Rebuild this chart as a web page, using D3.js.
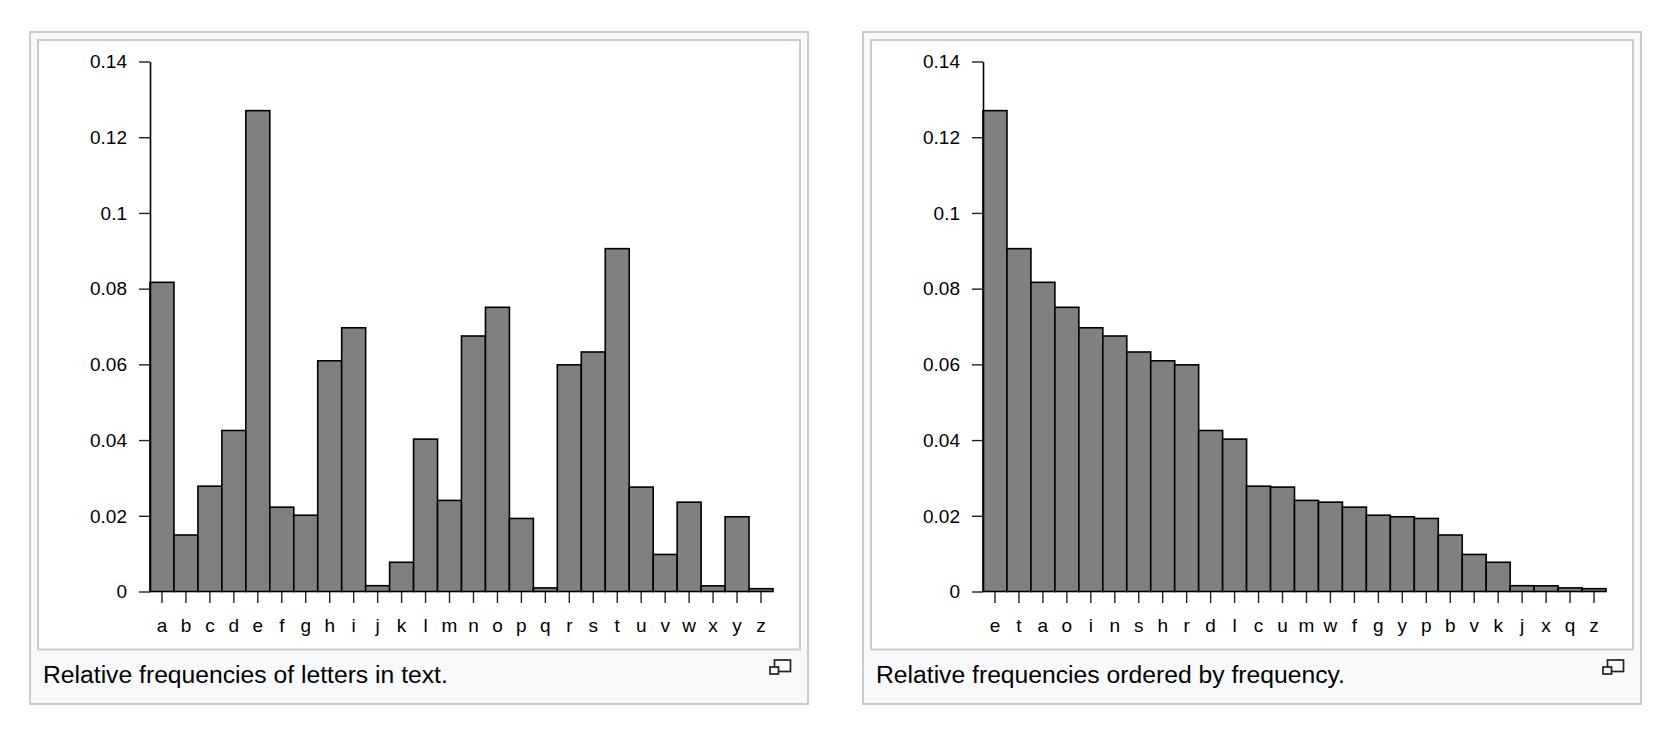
<!DOCTYPE html>
<html>
<head>
<meta charset="utf-8">
<script src="https://cdn.jsdelivr.net/npm/d3@7"></script>
<style>
html, body { margin: 0; padding: 0; background: #fff; }
text { font-family: "Liberation Sans", Arial, sans-serif; fill: #000; }
</style>
</head>
<body>
<div id="chart"></div>
<script>
var letters = ["a","b","c","d","e","f","g","h","i","j","k","l","m","n","o","p","q","r","s","t","u","v","w","x","y","z"];
var freqs = [0.08167,0.01492,0.02782,0.04253,0.12702,0.02228,0.02015,0.06094,0.06966,0.00153,0.00772,0.04025,0.02406,0.06749,0.07507,0.01929,0.00095,0.05987,0.06327,0.09056,0.02758,0.00978,0.0236,0.0015,0.01974,0.00074];

var sortedLetters = ["e","t","a","o","i","n","s","h","r","d","l","c","u","m","w","f","g","y","p","b","v","k","j","x","q","z"];
var sortedFreqs = [0.12702,0.09056,0.08167,0.07507,0.06966,0.06749,0.06327,0.06094,0.05987,0.04253,0.04025,0.02782,0.02758,0.02406,0.0236,0.02228,0.02015,0.01974,0.01929,0.01492,0.00978,0.00772,0.00153,0.0015,0.00095,0.00074];

var yTicks = [0,0.02,0.04,0.06,0.08,0.1,0.12,0.14];
var captionLeft = "Relative frequencies of letters in text.";
var captionRight = "Relative frequencies ordered by frequency.";

var w = 1665;
var h = 736;
var svg = d3.select("#chart").append("svg")
	.attr("width", w)
	.attr("height", h)
	.style("display", "block");

function panel(x0, names, values, caption){

	// outer thumb box
	svg.append("rect")
		.attr("x", x0 + 1).attr("y", 32)
		.attr("width", 778).attr("height", 672)
		.attr("fill", "#f8f9fa")
		.attr("stroke", "#c8ccd1")
		.attr("stroke-width", 2);

	// image box
	svg.append("rect")
		.attr("x", x0 + 9).attr("y", 40)
		.attr("width", 762).attr("height", 609.5)
		.attr("fill", "#fff")
		.attr("stroke", "#c8ccd1")
		.attr("stroke-width", 2);

	var xScale = d3.scaleBand()
		.domain(names)
		.range([x0 + 121, x0 + 121 + 623]);

	var yScale = d3.scaleLinear()
		.domain([0, 0.14])
		.range([591.5, 61.5]);

	var g = svg.append("g");

	g.selectAll("rect")
		.data(values)
		.enter()
		.append("rect")
		.attr("x", function(d, i){ return xScale(names[i]); })
		.attr("y", function(d){ return yScale(d); })
		.attr("width", xScale.bandwidth())
		.attr("height", function(d){ return yScale(0) - yScale(d); })
		.attr("fill", "#808080")
		.attr("stroke", "#000")
		.attr("stroke-width", 1.6);

	var yAxis = d3.axisLeft(yScale)
		.tickValues(yTicks)
		.tickFormat(function(d){ return String(d); })
		.tickSizeInner(11)
		.tickSizeOuter(0)
		.tickPadding(12);

	var ya = svg.append("g")
		.attr("transform", "translate(" + (x0 + 121) + ",0)")
		.call(yAxis);
	ya.selectAll("text").style("font-size", "19px").attr("dy", "0.33em");
	ya.selectAll("line").attr("stroke", "#222").attr("stroke-width", 1.4);
	ya.select(".domain").attr("stroke", "#000").attr("stroke-width", 1.6);

	var xAxis = d3.axisBottom(xScale)
		.tickSizeInner(11)
		.tickSizeOuter(0)
		.tickPadding(16);

	var xa = svg.append("g")
		.attr("transform", "translate(0,592)")
		.call(xAxis);
	xa.select(".domain").remove();
	xa.selectAll("text").style("font-size", "19px");
	xa.selectAll("line").attr("stroke", "#222").attr("stroke-width", 1.4);

	svg.append("text")
		.attr("x", x0 + 14)
		.attr("y", 683)
		.style("font-size", "24.7px")
		.text(caption);

	// magnify icon
	var ic = svg.append("g")
		.attr("transform", "translate(" + (x0 + 741) + ",660)")
		.attr("fill", "none")
		.attr("stroke", "#222")
		.attr("stroke-width", 1.7);
	ic.append("rect").attr("x", 4.5).attr("width", 16).attr("height", 11.5);
	ic.append("rect").attr("y", 7).attr("width", 8.5).attr("height", 7).attr("fill", "#f8f9fa");
}

panel(29, letters, freqs, captionLeft);
panel(862, sortedLetters, sortedFreqs, captionRight);
</script>
</body>
</html>
